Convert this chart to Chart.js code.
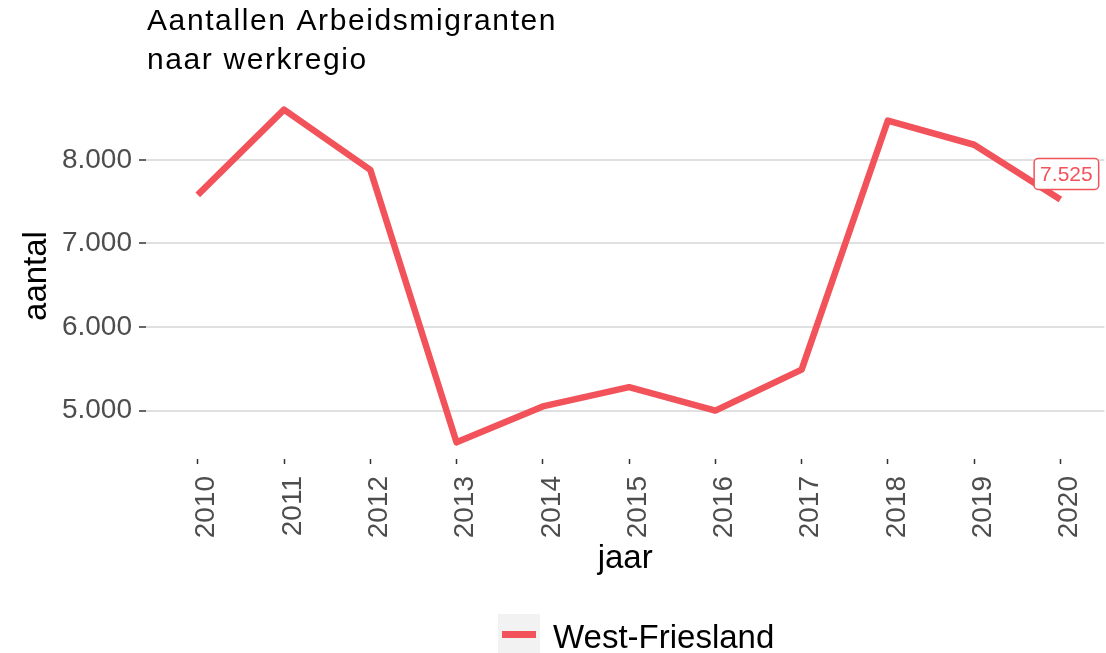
<!DOCTYPE html>
<html>
<head>
<meta charset="utf-8">
<script src="https://cdn.jsdelivr.net/npm/chart.js@4/dist/chart.umd.min.js"></script>
<style>
  html, body { margin: 0; padding: 0; background: #ffffff; }
  #wrap { width: 1106px; height: 653px; position: relative; }
</style>
</head>
<body>
<div id="wrap"><canvas id="c" width="1106" height="653"></canvas></div>
<script>
// Yearly counts of labour migrants for the West-Friesland work region
const years = [2010, 2011, 2012, 2013, 2014, 2015, 2016, 2017, 2018, 2019, 2020];
const aantal = [7580, 8600, 7880, 4620, 5050, 5280, 5000, 5490, 8470, 8180, 7525];
const yTicks = [5000, 6000, 7000, 8000];
const seriesName = 'West-Friesland';
const titleLines = ['Aantallen Arbeidsmigranten', 'naar werkregio'];
const xTitle = 'jaar';
const yTitle = 'aantal';

const lineColor = '#f2525a';
const FONT = '"Liberation Sans", Arial, sans-serif';

// Dutch thousands separator: 7525 -> "7.525"
function fmt(v) {
  return String(Math.round(v)).replace(/\B(?=(\d{3})+(?!\d))/g, '.');
}

// Title, end-of-line value label and legend
const overlay = {
  id: 'overlay',
  afterDraw(chart) {
    const ctx = chart.ctx;
    ctx.save();

    // title
    ctx.fillStyle = '#000000';
    ctx.font = '30px ' + FONT;
    ctx.letterSpacing = '1.6px';
    ctx.textAlign = 'left';
    ctx.textBaseline = 'alphabetic';
    ctx.fillText(titleLines[0], 147, 30);
    ctx.fillText(titleLines[1], 147, 69);
    ctx.letterSpacing = '0px';

    // value label at the last point
    const meta = chart.getDatasetMeta(0);
    const lastIdx = meta.data.length - 1;
    const pt = meta.data[lastIdx];
    const label = fmt(aantal[lastIdx]);
    ctx.font = '21px ' + FONT;
    const tw = ctx.measureText(label).width;
    const bw = tw + 12, bh = 31;
    const cx = pt.x + 6, cy = pt.y - 25.5;
    ctx.beginPath();
    ctx.roundRect(cx - bw / 2, cy - bh / 2, bw, bh, 4);
    ctx.fillStyle = '#ffffff';
    ctx.fill();
    ctx.lineWidth = 1.5;
    ctx.strokeStyle = lineColor;
    ctx.stroke();
    ctx.fillStyle = lineColor;
    ctx.textAlign = 'center';
    ctx.textBaseline = 'middle';
    ctx.fillText(label, cx, cy + 1);

    // legend
    ctx.fillStyle = '#f2f2f2';
    ctx.fillRect(498, 614, 42, 42);
    ctx.beginPath();
    ctx.moveTo(502, 634.5);
    ctx.lineTo(536, 634.5);
    ctx.lineWidth = 7;
    ctx.strokeStyle = lineColor;
    ctx.lineCap = 'butt';
    ctx.stroke();
    ctx.fillStyle = '#000000';
    ctx.font = '33px ' + FONT;
    ctx.textAlign = 'left';
    ctx.textBaseline = 'alphabetic';
    ctx.fillText(seriesName, 553, 648);

    ctx.restore();
  }
};

new Chart(document.getElementById('c'), {
  type: 'line',
  data: {
    datasets: [{
      label: seriesName,
      data: years.map((y, i) => ({ x: y, y: aantal[i] })),
      borderColor: lineColor,
      backgroundColor: lineColor,
      borderWidth: 6.5,
      borderJoinStyle: 'round',
      borderCapStyle: 'butt',
      pointRadius: 0,
      pointHoverRadius: 0,
      tension: 0,
      fill: false
    }]
  },
  options: {
    responsive: false,
    animation: false,
    devicePixelRatio: 1,
    layout: { padding: { top: 93, right: 0, bottom: 74, left: 0 } },
    plugins: {
      legend: { display: false },
      title: { display: false },
      tooltip: { enabled: false }
    },
    scales: {
      x: {
        type: 'linear',
        min: 2009.4,
        max: 2020.51,
        afterBuildTicks: s => { s.ticks = years.map(v => ({ value: v })); },
        afterFit: s => { s.height = 120; },
        border: { display: false },
        grid: {
          drawOnChartArea: false,
          drawTicks: true,
          tickLength: 5,
          tickColor: '#333333',
          tickWidth: 1.5
        },
        ticks: {
          autoSkip: false,
          minRotation: 90,
          maxRotation: 90,
          padding: 12,
          labelOffset: 9,
          color: '#4d4d4d',
          font: { family: FONT, size: 28 },
          callback: v => String(v)
        },
        title: {
          display: true,
          text: xTitle,
          color: '#000000',
          padding: { top: 0, bottom: 0 },
          font: { family: FONT, size: 33 }
        }
      },
      y: {
        min: 4421,
        max: 8799,
        afterBuildTicks: s => { s.ticks = yTicks.map(v => ({ value: v })); },
        afterFit: s => { s.width = 146; },
        border: { display: false },
        grid: {
          color: '#e0e0e0',
          lineWidth: 2,
          drawTicks: true,
          tickLength: 7,
          tickColor: '#333333',
          tickWidth: 1.5
        },
        ticks: {
          padding: 7,
          color: '#4d4d4d',
          font: { family: FONT, size: 28 },
          callback: v => fmt(v)
        },
        title: {
          display: true,
          text: yTitle,
          color: '#000000',
          padding: { top: 17, bottom: 0 },
          font: { family: FONT, size: 33 }
        }
      }
    }
  },
  plugins: [overlay]
});
</script>
</body>
</html>
